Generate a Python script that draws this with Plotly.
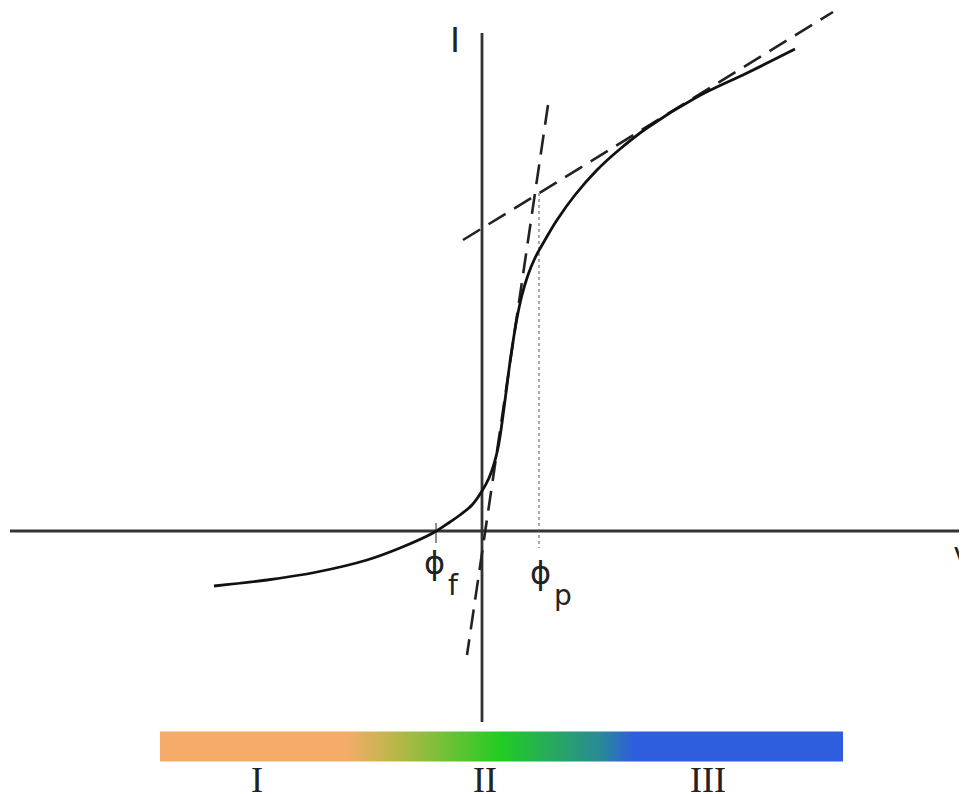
"""Langmuir probe I-V characteristic sketch (plotly)."""
import plotly.graph_objects as go

# probe curve, arbitrary units (V right, I up)
curve_v = [-26.8, -21.5, -16.5, -11.5, -8.2, -4.9, -3.2, -2.2, -1.0, 0.0, 0.7, 1.2,
           1.6, 1.9, 2.2, 2.5, 2.8, 3.1, 3.5, 4.0, 4.6, 5.3, 6.3, 7.5, 9.3, 11.5,
           13.8, 16.5, 21.5, 26.5, 31.3]
curve_i = [-5.5, -4.9, -4.1, -2.9, -1.7, -0.2, 0.9, 1.6, 2.6, 4.0, 5.3, 6.7,
           8.3, 10.1, 12.3, 14.6, 16.9, 18.9, 21.3, 23.6, 25.6, 27.3, 29.1, 31.1, 33.6, 36.1,
           38.2, 40.3, 43.4, 45.8, 48.2]

# tangent fits
sat_v = [-1.9, 35.1]
sat_i = [29.1, 51.9]
trans_v = [6.6, -1.5]
trans_i = [42.6, -12.4]

# axes extents
haxis_v = [-47.2, 48.5]
vaxis_i = [-19.1, 49.8]

# floating / plasma potential
phi_f = -4.6
phi_p = 5.7
phi_p_top = 33.8
phi_bottom = -1.7

# region bar
bar_v = [-32.2, 36.1]
bar_i = [-20.05, -23.05]
bar_stops = [0.0, 0.274, 0.351, 0.498, 0.644, 0.693, 1.0]
bar_colors = ["#F4AC68", "#F4AC68", "#B4B846", "#22CC22", "#2A8A96", "#2E5EDD", "#2E5EDD"]
region_labels = ["I", "II", "III"]
region_v = [-22.5, 0.3, 22.6]

INK = "#222222"

fig = go.Figure()

# axes
fig.add_trace(go.Scatter(x=haxis_v, y=[0, 0], mode="lines",
                         line=dict(color="#333333", width=2.8)))
fig.add_trace(go.Scatter(x=[0, 0], y=vaxis_i, mode="lines",
                         line=dict(color="#333333", width=2.8)))

# dotted marker for plasma potential, tick for floating potential
fig.add_trace(go.Scatter(x=[phi_p, phi_p], y=[phi_p_top, phi_bottom], mode="lines",
                         line=dict(color="#555555", width=1, dash="dot")))
fig.add_trace(go.Scatter(x=[phi_f, phi_f], y=[0.8, -1.2], mode="lines",
                         line=dict(color="#444444", width=1.2)))

# tangents
fig.add_trace(go.Scatter(x=sat_v, y=sat_i, mode="lines",
                         line=dict(color=INK, width=2.6, dash="20px,10px")))
fig.add_trace(go.Scatter(x=trans_v, y=trans_i, mode="lines",
                         line=dict(color=INK, width=2.6, dash="20px,10px")))

# I-V curve
fig.add_trace(go.Scatter(x=curve_v, y=curve_i, mode="lines",
                         line=dict(color="#111111", width=2.8, shape="spline", smoothing=1)))

# region bar with gradient
fig.add_trace(go.Scatter(
    x=[bar_v[0], bar_v[1], bar_v[1], bar_v[0], bar_v[0]],
    y=[bar_i[0], bar_i[0], bar_i[1], bar_i[1], bar_i[0]],
    mode="lines", line=dict(width=0), fill="toself",
    fillgradient=dict(type="horizontal",
                      colorscale=[[s, c] for s, c in zip(bar_stops, bar_colors)]),
))

annotations = [
    dict(x=-2.7, y=49.1, text="I", font=dict(family="DejaVu Sans", size=34, color=INK)),
    dict(x=47.0, y=-2.7, text="V", xanchor="left", font=dict(family="DejaVu Sans", size=28, color=INK)),
    dict(x=-4.75, y=-3.2, text="ϕ", font=dict(family="DejaVu Sans", size=32, color=INK)),
    dict(x=-2.9, y=-5.4, text="f", font=dict(family="DejaVu Sans", size=28, color=INK)),
    dict(x=5.8, y=-4.2, text="ϕ", font=dict(family="DejaVu Sans", size=32, color=INK)),
    dict(x=8.1, y=-6.4, text="p", font=dict(family="DejaVu Sans", size=28, color=INK)),
]
for lab, v in zip(region_labels, region_v):
    annotations.append(dict(x=v, y=-24.9, text=lab,
                            font=dict(family="Liberation Serif", size=36, color=INK)))
for a in annotations:
    a.update(showarrow=False, xref="x", yref="y")

# page body keeps an 8px margin, so the figure covers the picture from (8, 8)
fig.update_layout(
    width=959, height=786,
    margin=dict(l=0, r=0, t=0, b=0),
    paper_bgcolor="white", plot_bgcolor="white",
    showlegend=False,
    xaxis=dict(range=[-47.4, 48.5], visible=False, fixedrange=True),
    yaxis=dict(range=[-26.3, 52.3], visible=False, fixedrange=True),
    annotations=annotations,
)
fig.write_html("out.html")
